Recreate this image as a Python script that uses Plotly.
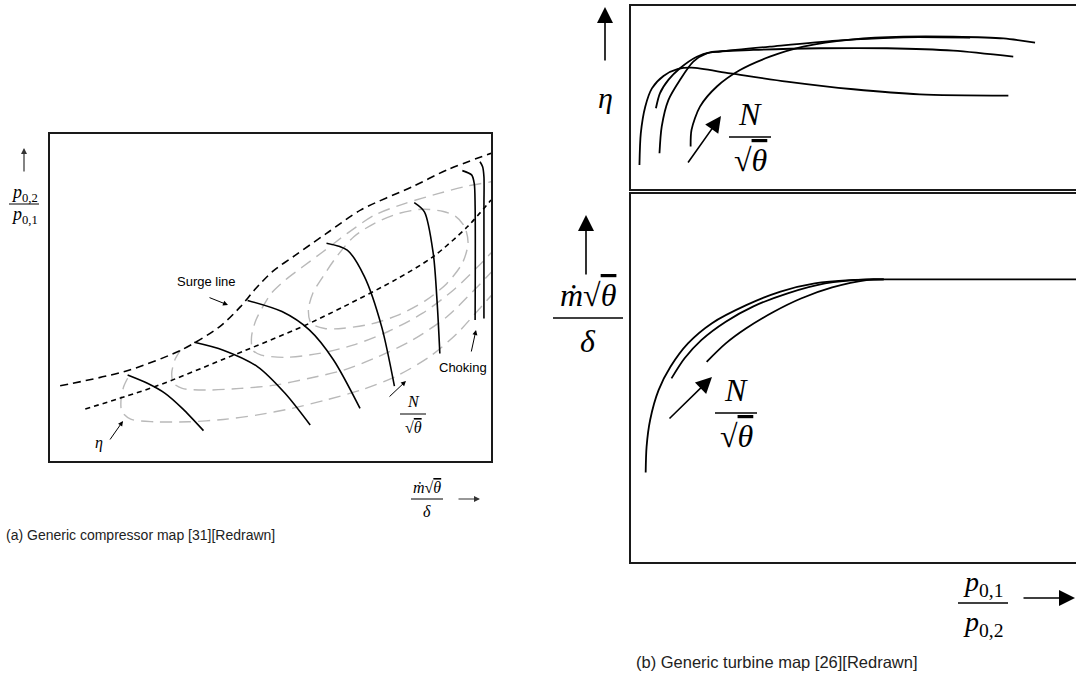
import plotly.graph_objects as go

W, H = 1076, 684

# ---------------- (a) compressor map, normalised units 0-100 ----------------
surge_x = [2.3, 17.5, 30.0, 38.5, 43.2, 46.5, 50.5, 55.5, 62.7, 70.5, 82.2, 90.0, 100.0]
surge_y = [23.0, 27.6, 34.1, 41.1, 47.2, 52.5, 58.0, 62.8, 69.6, 76.8, 83.9, 89.0, 94.1]

work_x = [8.0, 23.7, 39.3, 57.2, 66.6, 78.3, 86.9, 94.7, 100.0]
work_y = [15.9, 22.7, 31.1, 41.1, 47.2, 55.4, 62.5, 71.7, 79.8]

speed_x = [
    [17.6, 22.2, 26.1, 30.0, 34.8],
    [32.7, 39.3, 47.1, 53.3, 59.0],
    [44.8, 52.6, 58.8, 64.3, 70.3],
    [62.7, 67.4, 71.3, 75.2, 78.1],
    [82.6, 84.9, 86.9, 87.8, 88.4],
    [93.5, 95.6, 96.2, 96.4, 96.4],
    [97.5, 98.1, 98.4, 98.4, 98.4],
]
speed_y = [
    [26.3, 23.7, 20.7, 16.1, 9.3],
    [36.3, 33.9, 28.8, 20.7, 11.0],
    [49.1, 45.7, 40.1, 30.9, 16.1],
    [66.6, 64.5, 56.4, 41.1, 22.9],
    [79.0, 76.2, 63.5, 48.2, 32.9],
    [88.8, 87.5, 84.9, 78.0, 43.1],
    [91.5, 90.0, 86.9, 78.0, 43.6],
]

# efficiency islands (outer to inner)
eff_x = [
    [17.6, 16.7, 16.1, 16.3, 18.3, 23.7, 31.5, 39.3, 47.1, 54.9, 62.7, 70.5, 78.3, 86.1, 92.3, 97.8, 102.0],
    [29.6, 28.3, 27.6, 28.0, 30.0, 35.4, 43.2, 51.0, 58.8, 66.6, 74.4, 82.2, 90.0, 96.2, 102.0],
    [102.0, 100.1, 94.7, 88.4, 80.6, 73.6, 67.4, 61.9, 57.3, 53.4, 50.2, 48.7, 46.7, 45.7, 46.0, 47.9,
     53.4, 61.1, 68.9, 76.7, 84.5, 91.5, 97.8, 102.0],
    [59.6, 58.6, 59.2, 62.3, 66.6, 72.8, 79.1, 85.3, 90.0, 93.5, 94.8, 94.0, 91.9, 89.2, 84.5, 79.1,
     73.6, 68.9, 65.0, 61.9, 59.6],
]
eff_y = [
    [25.3, 22.7, 18.7, 15.1, 12.8, 12.0, 12.0, 12.7, 14.1, 16.1, 18.7, 21.7, 25.8, 31.9, 39.0, 47.2, 53.5],
    [33.9, 30.9, 26.8, 23.8, 22.2, 21.7, 22.2, 23.2, 25.3, 27.8, 31.9, 37.0, 44.1, 52.3, 60.5],
    [86.0, 85.4, 84.1, 81.9, 78.8, 75.2, 69.6, 64.0, 59.4, 55.4, 51.3, 48.2, 43.1, 38.0, 33.9, 32.4,
     31.7, 32.9, 35.5, 39.6, 45.2, 52.3, 60.5, 66.5],
    [51.3, 46.2, 42.1, 40.5, 40.6, 41.9, 44.7, 49.2, 54.3, 60.5, 66.6, 71.7, 74.9, 76.3, 77.0, 75.7,
     72.7, 68.6, 62.5, 56.4, 51.3],
]

# ---------------- (b) turbine map ----------------
# efficiency vs pressure ratio
eta_x = [
    [1.9, 2.2, 3.2, 4.7, 7.3, 10.6, 13.6, 22.3, 35.0, 50.0, 64.9, 84.8],
    [5.6, 6.5, 8.4, 11.0, 14.8, 17.8, 27.5, 42.5, 57.5, 72.4, 85.9],
    [6.4, 6.9, 8.4, 11.0, 14.0, 17.0, 20.0, 31.2, 46.2, 61.2, 76.2],
    [13.4, 13.6, 15.5, 19.3, 24.5, 31.2, 38.7, 50.0, 61.2, 72.4, 83.7, 90.8],
]
eta_y = [
    [13.1, 30.4, 45.0, 55.0, 61.8, 65.6, 66.3, 63.2, 58.7, 54.5, 51.7, 51.0],
    [44.1, 52.3, 59.6, 66.0, 72.3, 74.7, 76.0, 76.9, 76.9, 75.6, 72.3],
    [19.5, 34.1, 48.6, 59.6, 69.6, 74.1, 75.1, 77.8, 81.1, 82.9, 82.7],
    [23.2, 32.3, 45.0, 56.0, 65.0, 72.3, 77.8, 81.8, 83.2, 83.2, 82.3, 80.0],
]

# corrected mass flow vs pressure ratio
flow_x = [
    [3.3, 3.5, 4.3, 6.2, 8.9, 12.8, 18.2, 25.9, 33.6, 41.3, 49.1, 56.8, 110.0],
    [9.1, 12.0, 15.8, 21.3, 27.4, 35.2, 43.6, 52.9, 56.8],
    [17.0, 21.3, 25.9, 32.1, 38.2, 45.2, 52.9, 56.8],
]
flow_y = [
    [24.3, 31.3, 38.6, 46.7, 53.1, 59.4, 64.9, 69.8, 73.5, 75.7, 76.6, 76.8, 76.8],
    [49.9, 55.3, 60.3, 65.3, 69.4, 73.0, 75.7, 76.8, 76.8],
    [54.4, 59.4, 63.5, 68.0, 71.6, 74.6, 76.6, 76.8],
]

fig = go.Figure()


def curve(x, y, axis, color="black", width=1.6, dash="solid"):
    fig.add_trace(go.Scatter(
        x=x, y=y, mode="lines", xaxis="x" + axis, yaxis="y" + axis,
        line=dict(color=color, width=width, dash=dash, shape="spline", smoothing=0.8),
        hoverinfo="skip", showlegend=False))


for ex, ey in zip(eff_x, eff_y):
    curve(ex, ey, "", color="#b9b9b9", width=1.4, dash="12px,7px")
curve(surge_x, surge_y, "", width=1.6, dash="8px,5px")
curve(work_x, work_y, "", width=1.6, dash="5px,4px")
for sx, sy in zip(speed_x, speed_y):
    curve(sx, sy, "", width=1.6)

for ex, ey in zip(eta_x, eta_y):
    curve(ex, ey, "2", width=1.8)
for fx, fy in zip(flow_x, flow_y):
    curve(fx, fy, "3", width=1.8)


def axis(domain, mirror, anchor):
    return dict(domain=domain, range=[0, 100], showline=True, mirror=mirror,
                linecolor="#1a1a1a", linewidth=2, showgrid=False, zeroline=False,
                showticklabels=False, ticks="", fixedrange=True, anchor=anchor)


def px(x):
    return x / W


def py(y):
    return 1 - y / H


annotations = []
shapes = []


def text(x, y, s, size, family="Liberation Serif", color="black"):
    annotations.append(dict(x=px(x), y=py(y), xref="paper", yref="paper", text=s,
                            showarrow=False, xanchor="center", yanchor="middle",
                            font=dict(family=family, size=size, color=color)))


def frac(x, y, num, den, size, half, gap):
    text(x, y - gap, num, size)
    text(x, y + gap, den, size)
    shapes.append(dict(type="line", xref="paper", yref="paper",
                       x0=px(x - half), x1=px(x + half), y0=py(y), y1=py(y),
                       line=dict(color="black", width=max(1, size / 20))))


def arrow(x0, y0, x1, y1, head=2, size=1.0, width=1.0, color="black"):
    annotations.append(dict(x=px(x1), y=py(y1), xref="paper", yref="paper",
                            ax=x0 - x1, ay=y0 - y1, text="", showarrow=True,
                            arrowhead=head, arrowsize=size, arrowwidth=width,
                            arrowcolor=color, standoff=0, startstandoff=0))


theta = "√<span style='text-decoration:overline'><i>θ</i></span>"

# compressor labels
frac(24, 204, "<i>p</i><sub>0,2</sub>", "<i>p</i><sub>0,1</sub>", 18, 15, 11)
arrow(24, 173, 24, 148, head=2, size=1, width=1.2, color="#333")
frac(427, 499, "<i>ṁ</i>" + theta, "<i>δ</i>", 16, 16, 12)
arrow(457, 499, 480, 499, head=2, size=1, width=1.2, color="#333")
text(206, 282, "Surge line", 13, family="Liberation Sans")
arrow(208, 297, 228, 305, head=2, size=1, width=1)
text(463, 367, "Choking", 13, family="Liberation Sans")
arrow(471, 353, 476, 330, head=2, size=1, width=1)
text(99, 443, "<i>η</i>", 16)
arrow(109, 441, 123, 421, head=2, size=1, width=1)
frac(413, 414, "<i>N</i>", theta, 16, 13, 13)
arrow(388, 398, 406, 381, head=2, size=1, width=1)
text(140, 535, "(a) Generic compressor map [31][Redrawn]", 14, family="Liberation Sans", color="#222")

# turbine labels
text(605, 97, "<i>η</i>", 30)
arrow(605, 62, 605, 7, head=2, size=2.0, width=1.6)
frac(750, 137, "<i>N</i>", theta, 32, 21, 23)
arrow(687, 164, 721, 116, head=2, size=2.0, width=1.6)
frac(588, 318, "<i>ṁ</i>" + theta, "<i>δ</i>", 32, 35, 23)
arrow(586, 276, 586, 215, head=2, size=2.0, width=1.6)
frac(736, 413, "<i>N</i>", theta, 32, 21, 23)
arrow(668, 420, 712, 377, head=2, size=2.0, width=1.6)
frac(983, 603, "<i>p</i><sub>0,1</sub>", "<i>p</i><sub>0,2</sub>", 28, 25, 20)
arrow(1022, 598, 1077, 598, head=2, size=2.0, width=1.6)
text(777, 662, "(b) Generic turbine map [26][Redrawn]", 16.5, family="Liberation Sans", color="#222")

fig.update_layout(
    width=W, height=H, margin=dict(l=0, r=0, t=0, b=0),
    paper_bgcolor="white", plot_bgcolor="white",
    xaxis=axis([50 / W, 491 / W], True, "y"),
    yaxis=axis([1 - 461 / H, 1 - 134 / H], True, "x"),
    xaxis2=axis([631 / W, 1.0], True, "y2"),
    yaxis2=axis([1 - 189 / H, 1 - 6 / H], False, "x2"),
    xaxis3=axis([631 / W, 1.0], True, "y3"),
    yaxis3=axis([1 - 562 / H, 1 - 194 / H], False, "x3"),
    annotations=annotations, shapes=shapes,
)

fig.write_html("out.html")
